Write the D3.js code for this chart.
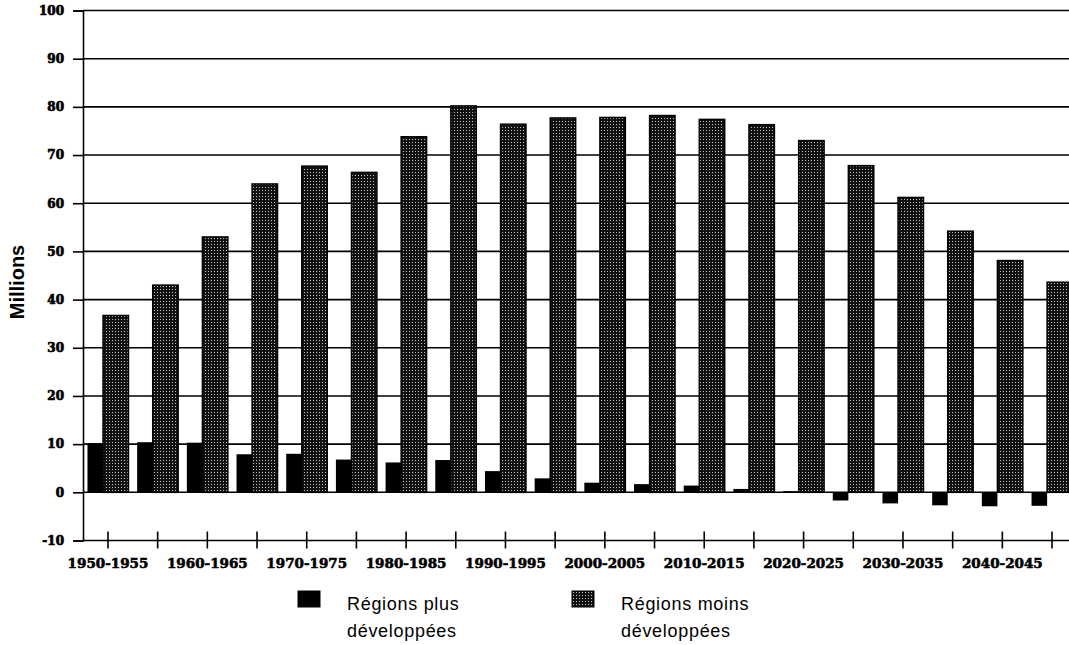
<!DOCTYPE html>
<html>
<head>
<meta charset="utf-8">
<script src="https://cdn.jsdelivr.net/npm/d3@7"></script>
<style>
  body { margin: 0; background: #fff; }
</style>
</head>
<body>
<script>
//Width and height
var w = 1069;
var h = 645;

// periods (every other one is labelled on the axis)
var periods = ["1950-1955", "1955-1960", "1960-1965", "1965-1970", "1970-1975",
  "1975-1980", "1980-1985", "1985-1990", "1990-1995", "1995-2000",
  "2000-2005", "2005-2010", "2010-2015", "2015-2020", "2020-2025",
  "2025-2030", "2030-2035", "2035-2040", "2040-2045", "2045-2050"];

// annual increase, millions
var plusDev = [10.2, 10.4, 10.3, 7.9, 8.0, 6.8, 6.2, 6.7, 4.4, 2.9,
  2.0, 1.7, 1.4, 0.7, 0.25, -1.7, -2.3, -2.7, -2.9, -2.8];
var moinsDev = [36.7, 43.0, 53.0, 64.0, 67.7, 66.4, 73.8, 80.2, 76.4, 77.7,
  77.8, 78.2, 77.4, 76.3, 73.0, 67.8, 61.2, 54.2, 48.1, 43.6];

var yTicks = [-10, 0, 10, 20, 30, 40, 50, 60, 70, 80, 90, 100];
var legendLabels = [["Régions plus", "développées"], ["Régions moins", "développées"]];

var x = d3.scaleBand()
    .domain(periods)
    .range([83, 1077])
    .paddingInner(0.175)
    .paddingOuter(0.09);

var y = d3.scaleLinear().domain([-10, 100]).range([540.5, 10.5]);

var svg = d3.select("body")
    .append("svg")
    .attr("width", w)
    .attr("height", h);

// stippled fill for the less developed regions
var defs = svg.append("defs");
var pat = defs.append("pattern")
    .attr("id", "stipple")
    .attr("patternUnits", "userSpaceOnUse")
    .attr("width", 3)
    .attr("height", 3);
pat.append("rect").attr("width", 3).attr("height", 3).attr("fill", "#111");
pat.append("rect").attr("x", 1).attr("y", 1).attr("width", 1).attr("height", 1).attr("fill", "#fff").attr("opacity", 0.75);

// gridlines
svg.selectAll(".grid")
    .data(yTicks)
    .enter()
    .append("line")
    .attr("class", "grid")
    .attr("x1", 83)
    .attr("x2", w)
    .attr("y1", function(d){ return y(d); })
    .attr("y2", function(d){ return y(d); })
    .attr("stroke", "black")
    .attr("stroke-width", 1.6);

// y axis
var yAxis = svg.append("g")
    .attr("transform", "translate(83,0)")
    .call(d3.axisLeft(y).tickValues(yTicks).tickSize(10).tickPadding(9)
      .tickFormat(function(d){ return String(d); }));
yAxis.select(".domain").attr("stroke-width", 1.6);
yAxis.selectAll(".tick line").attr("stroke-width", 1.6);
yAxis.selectAll("text")
    .attr("font-family", "DejaVu Serif")
    .attr("font-weight", "bold")
    .attr("font-size", "12px")
    .attr("stroke", "black")
    .attr("stroke-width", 0.7)
    .attr("fill", "black");

// x axis on the -10 line, ticks at group centres
var xAxis = svg.append("g")
    .attr("transform", "translate(0," + y(-10) + ")")
    .call(d3.axisBottom(x)
      .tickSize(8)
      .tickPadding(10)
      .tickFormat(function(d, i){ return i % 2 === 0 ? d : ""; }));
xAxis.select(".domain").remove();
xAxis.selectAll(".tick line").attr("y1", -9).attr("stroke-width", 1.6);
xAxis.selectAll("text")
    .attr("font-family", "DejaVu Serif")
    .attr("font-weight", "bold")
    .attr("font-size", "13.5px")
    .attr("stroke", "black")
    .attr("stroke-width", 0.6)
    .attr("fill", "black");

// bars
var bw = x.bandwidth();
svg.selectAll(".plus")
    .data(plusDev)
    .enter()
    .append("rect")
    .attr("class", "plus")
    .attr("x", function(d, i){ return x(periods[i]); })
    .attr("width", bw * 0.38)
    .attr("y", function(d){ return y(Math.max(0, d)); })
    .attr("height", function(d){ return Math.abs(y(d) - y(0)); })
    .attr("fill", "black");

svg.selectAll(".moins")
    .data(moinsDev)
    .enter()
    .append("rect")
    .attr("class", "moins")
    .attr("x", function(d, i){ return x(periods[i]) + bw * 0.38; })
    .attr("width", bw * 0.62)
    .attr("y", function(d){ return y(d); })
    .attr("height", function(d){ return y(0) - y(d); })
    .attr("fill", "url(#stipple)")
    .attr("stroke", "black")
    .attr("stroke-width", 1.5);

// y label
svg.append("text")
    .attr("transform", "translate(24,282) rotate(-90)")
    .attr("text-anchor", "middle")
    .attr("font-family", "Liberation Sans")
    .attr("font-weight", "bold")
    .attr("font-size", "20px")
    .text("Millions");

// legend
var legendX = [298, 572];
var lg = svg.selectAll(".legend")
    .data(legendLabels)
    .enter()
    .append("g")
    .attr("class", "legend")
    .attr("transform", function(d, i){ return "translate(" + legendX[i] + ",591)"; });

lg.append("rect")
    .attr("width", 22)
    .attr("height", 16)
    .attr("fill", function(d, i){ return i === 0 ? "black" : "url(#stipple)"; })
    .attr("stroke", "black")
    .attr("stroke-width", 1);

lg.selectAll("text")
    .data(function(d){ return d; })
    .enter()
    .append("text")
    .attr("x", 49)
    .attr("y", function(d, j){ return 19 + j * 27; })
    .attr("font-family", "Liberation Sans")
    .attr("font-size", "18px")
    .attr("letter-spacing", "0.7px")
    .text(function(d){ return d; });
</script>
</body>
</html>
